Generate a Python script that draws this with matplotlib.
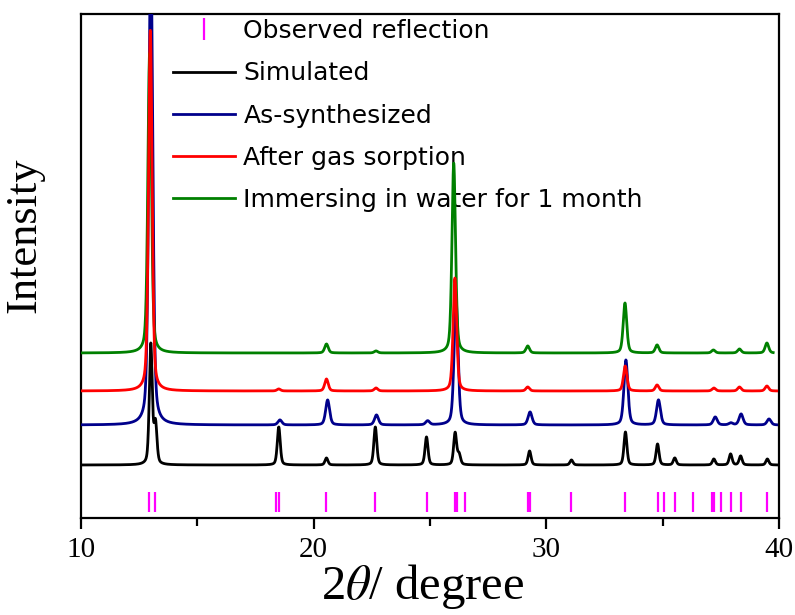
import numpy as np
import matplotlib
matplotlib.use("Agg")
import matplotlib.pyplot as plt
from matplotlib.lines import Line2D
from matplotlib.ticker import MultipleLocator

plt.rcParams["mathtext.fontset"] = "stix"

# observed reflection positions (2theta, degree)
observed = [12.94, 13.20, 18.38, 18.53, 20.53, 22.65, 24.85, 26.08, 26.16,
            26.52, 29.20, 29.28, 31.06, 33.39, 34.78, 35.07, 35.52, 36.32,
            37.12, 37.20, 37.49, 37.92, 38.36, 39.50]

# peak lists per pattern: position, height above baseline (arb. units)
sim_pos = [13.00, 13.20, 18.50, 20.55, 22.65, 24.85, 26.08, 26.25, 29.28,
           31.08, 33.40, 34.78, 35.52, 37.20, 37.92, 38.35, 39.50]
sim_h = [120, 40, 38, 7, 38, 28, 32, 10, 14, 5, 33, 21, 7, 6, 11, 9, 6]

syn_pos = [13.00, 18.55, 20.60, 22.70, 24.90, 26.12, 29.30, 33.42, 34.82,
           37.26, 37.93, 38.37, 39.57]
syn_h = [480, 5, 25, 10, 4, 125, 13, 65, 25, 8, 2, 11, 6]

gas_pos = [12.98, 18.50, 20.55, 22.68, 26.07, 29.20, 33.39, 34.76, 37.20,
           38.30, 39.48]
gas_h = [361, 2, 12, 3, 113, 4, 25, 6, 3, 4, 5]

wat_pos = [12.95, 20.55, 22.68, 26.02, 29.20, 33.38, 34.76, 37.18, 38.30,
           39.48]
wat_h = [300, 9, 2, 190, 7, 50, 8, 3, 4, 10]

baselines = {"Simulated": 53, "As-synthesized": 93,
             "After gas sorption": 127, "Immersing in water for 1 month": 165}


def pattern(x, base, pos, height, fwhm):
    y = np.full_like(x, float(base))
    for p, h in zip(pos, height):
        d = (x - p) / fwhm
        y += h * (0.6 * np.exp(-4 * np.log(2) * d ** 2) + 0.4 / (1 + 4 * d ** 2))
    return y


fig = plt.figure(figsize=(7.95, 6.15), dpi=100)
ax = fig.add_axes([81 / 795, 97 / 615, 698 / 795, 504 / 615])

x = np.linspace(10, 39.9, 4000)
xw = np.linspace(10, 39.75, 4000)

ax.plot(x, pattern(x, baselines["Simulated"], sim_pos, sim_h, 0.15),
        color="black", lw=2, zorder=2)
ax.plot(x, pattern(x, baselines["As-synthesized"], syn_pos, syn_h, 0.2),
        color="#00008B", lw=2, zorder=3)
ax.plot(xw, pattern(xw, baselines["Immersing in water for 1 month"], wat_pos, wat_h, 0.18),
        color="#008000", lw=2, zorder=4)
ax.plot(x, pattern(x, baselines["After gas sorption"], gas_pos, gas_h, 0.18),
        color="#FF0000", lw=2, zorder=5)

ax.vlines(observed, 6, 26, color="magenta", lw=1.6, zorder=2)

ax.set_xlim(10, 40)
ax.set_ylim(0, 504)

handles = [
    Line2D([], [], color="magenta", marker="|", ls="None", markersize=16, mew=1.6),
    Line2D([], [], color="black", lw=2),
    Line2D([], [], color="#00008B", lw=2),
    Line2D([], [], color="#FF0000", lw=2),
    Line2D([], [], color="#008000", lw=2),
]
labels = ["Observed reflection"] + list(baselines.keys())
leg = ax.legend(handles, labels, loc="upper left", bbox_to_anchor=(0.128, 0.995),
                frameon=False, fontsize=18, handlelength=2.5, handletextpad=0.32,
                labelspacing=0.73, borderpad=0.1, borderaxespad=0.0)
leg.set_zorder(1)

for s in ax.spines.values():
    s.set_linewidth(1.6)

ax.xaxis.set_major_locator(MultipleLocator(10))
ax.xaxis.set_minor_locator(MultipleLocator(5))
ax.tick_params(axis="x", which="both", direction="out", top=False, width=1.6,
               labelsize=21, pad=6)
ax.tick_params(axis="x", which="major", length=8)
ax.tick_params(axis="x", which="minor", length=6)
ax.tick_params(axis="y", left=False, labelleft=False)
for t in ax.get_xticklabels():
    t.set_family("Liberation Serif")

ax.set_xlabel(r"2$\theta$/ degree", family="Liberation Serif", fontsize=35)
ax.xaxis.set_label_coords(0.49, -0.087)
ax.set_ylabel("Intensity", family="Liberation Serif", fontsize=32)
ax.yaxis.set_label_coords(-0.052, 0.5615)

fig.savefig("out.png", dpi=100)
